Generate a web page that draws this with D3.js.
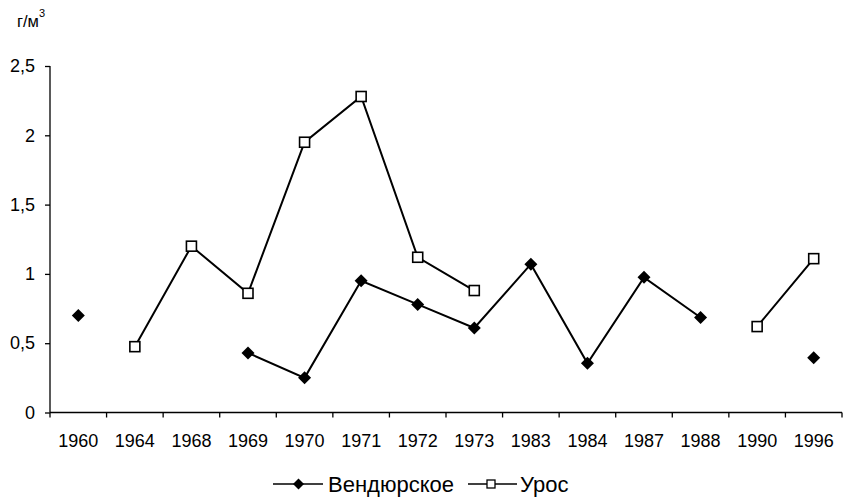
<!DOCTYPE html>
<html>
<head>
<meta charset="utf-8">
<script src="https://cdn.jsdelivr.net/npm/d3@7"></script>
<style>
  body { margin: 0; background: #fff; }
  svg { display: block; font-family: "Liberation Sans", Arial, sans-serif; }
</style>
</head>
<body>
<script>
// categories (years) and the two series, null = no measurement
var years = ["1960", "1964", "1968", "1969", "1970", "1971", "1972", "1973", "1983", "1984", "1987", "1988", "1990", "1996"];
var vendyurskoe = [0.70, null, null, 0.43, 0.25, 0.95, 0.78, 0.61, 1.07, 0.355, 0.975, 0.685, null, 0.395];
var uros = [null, 0.475, 1.20, 0.86, 1.95, 2.28, 1.12, 0.88, null, null, null, null, 0.62, 1.11];
var yTicks = [0, 0.5, 1, 1.5, 2, 2.5];
var seriesNames = ["Вендюрское", "Урос"];

var width = 845, height = 499;

var svg = d3.select("body").append("svg")
    .attr("width", width)
    .attr("height", height);

var x = d3.scaleBand().domain(years).range([50, 842]).padding(0);
var y = d3.scaleLinear().domain([0, 2.5]).range([412.5, 66]);

var ru = d3.formatLocale({decimal: ",", thousands: " ", grouping: [3], currency: ["", ""]});
var fmt = ru.format("~g");

//y axis
var yAxis = svg.append("g")
    .attr("transform", "translate(50,0)")
    .call(d3.axisLeft(y).tickValues(yTicks).tickSize(5).tickPadding(10).tickFormat(fmt));
yAxis.selectAll("text").attr("font-size", 18).attr("fill", "#000").attr("font-family", null);
yAxis.selectAll("line, path").attr("stroke", "#000").attr("stroke-width", 1.3);
yAxis.select(".domain").attr("d", "M0," + y(2.5) + "V" + y(0));

//x axis: labels in the middle, ticks between categories
var xAxis = svg.append("g")
    .attr("transform", "translate(0," + y(0) + ")")
    .call(d3.axisBottom(x).tickSize(0).tickPadding(21.5));
xAxis.selectAll("text").attr("font-size", 18).attr("fill", "#000").attr("font-family", null);
xAxis.select(".domain").attr("d", "M50,0H842").attr("stroke", "#000").attr("stroke-width", 1.3);
xAxis.selectAll(".edge")
    .data(years.concat(["end"]))
    .enter().append("line")
    .attr("class", "edge")
    .attr("x1", function(d, i) { return 50 + i * x.bandwidth(); })
    .attr("x2", function(d, i) { return 50 + i * x.bandwidth(); })
    .attr("y1", 0).attr("y2", 5)
    .attr("stroke", "#000").attr("stroke-width", 1.3);

//unit label
var unit = svg.append("text").attr("x", 17).attr("y", 27).attr("font-size", 16.5);
unit.append("tspan").text("г/м");
unit.append("tspan").attr("dy", -10).attr("font-size", 11).text("3");

//lines
var line = d3.line()
    .defined(function(d) { return d != null; })
    .x(function(d, i) { return x(years[i]) + x.bandwidth() / 2; })
    .y(function(d) { return y(d); });

[vendyurskoe, uros].forEach(function(s) {
    svg.append("path")
        .attr("d", line(s))
        .attr("fill", "none")
        .attr("stroke", "#000")
        .attr("stroke-width", 2);
});

function diamond(g, cx, cy, r) {
    g.append("path")
        .attr("d", "M" + cx + "," + (cy - r) + "L" + (cx + r) + "," + cy + "L" + cx + "," + (cy + r) + "L" + (cx - r) + "," + cy + "Z")
        .attr("fill", "#000");
}
function square(g, cx, cy, s, sw) {
    g.append("rect")
        .attr("x", cx - s / 2).attr("y", cy - s / 2)
        .attr("width", s).attr("height", s)
        .attr("fill", "#fff").attr("stroke", "#000").attr("stroke-width", sw);
}

//markers
vendyurskoe.forEach(function(v, i) {
    if (v != null) diamond(svg, x(years[i]) + x.bandwidth() / 2, y(v), 6.5);
});
uros.forEach(function(v, i) {
    if (v != null) square(svg, x(years[i]) + x.bandwidth() / 2, y(v), 10, 1.6);
});

//legend
var leg = svg.append("g");
var ly = 484;
leg.append("line").attr("x1", 273).attr("x2", 323).attr("y1", ly).attr("y2", ly).attr("stroke", "#000").attr("stroke-width", 1.6);
diamond(leg, 298.5, ly, 5.5);
leg.append("text").attr("x", 328).attr("y", ly + 7.5).attr("font-size", 22).text(seriesNames[0]);
leg.append("line").attr("x1", 468).attr("x2", 517).attr("y1", ly).attr("y2", ly).attr("stroke", "#000").attr("stroke-width", 1.6);
square(leg, 491, ly, 8, 1.3);
leg.append("text").attr("x", 520).attr("y", ly + 7.5).attr("font-size", 22).text(seriesNames[1]);
</script>
</body>
</html>
